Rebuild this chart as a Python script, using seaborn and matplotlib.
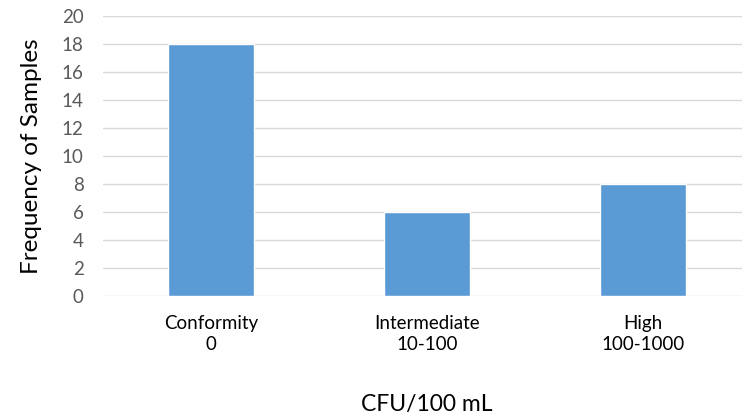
import matplotlib
matplotlib.use("Agg")
import matplotlib.pyplot as plt
import seaborn as sns
import pandas as pd

categories = ["Conformity\n0", "Intermediate\n10-100", "High\n100-1000"]
frequencies = [18, 6, 8]
yticks = [0, 2, 4, 6, 8, 10, 12, 14, 16, 18, 20]

sns.set_theme(style="white")
plt.rcParams['font.family'] = ['Lato', 'DejaVu Sans']

df = pd.DataFrame({"cat": categories, "freq": frequencies})

W, H = 742, 419
fig = plt.figure(figsize=(W / 100, H / 100), dpi=100)
ax = fig.add_axes([103 / W, (H - 296) / H, (751 - 103) / W, 280 / H])

sns.barplot(data=df, x="cat", y="freq", color="#5b9bd5", width=0.40,
            saturation=1, ax=ax, zorder=3)

ax.set_ylim(0, 20)
ax.set_xlim(-0.5, 2.5)
ax.set_yticks(yticks)
ax.set_yticklabels([str(v) for v in yticks], color="#595959", fontsize=13.5)
ax.tick_params(axis="y", length=0, pad=14)
ax.tick_params(axis="x", length=0, pad=14, labelsize=13.5, labelcolor="black")
for lbl in ax.get_xticklabels():
    lbl.set_linespacing(1.25)
ax.yaxis.grid(True, color="#d9d9d9", linewidth=1.0, zorder=0)
ax.xaxis.grid(False)
for s in ax.spines.values():
    s.set_visible(False)

ax.set_ylabel("Frequency of Samples", fontsize=17.5, color="black", labelpad=14)
ax.set_xlabel("")
fig.text(427 / W, 1 - 404 / H, "CFU/100 mL", ha="center", va="center",
         fontsize=16.5, color="black")

fig.savefig("out.png", dpi=100)
